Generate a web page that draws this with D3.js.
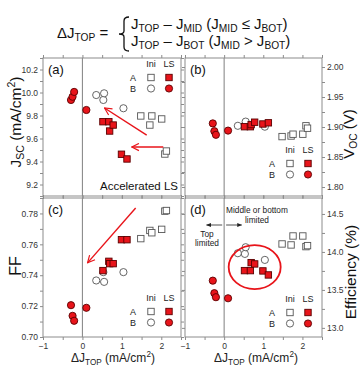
<!DOCTYPE html>
<html lang="en">
<head>
<meta charset="utf-8">
<title>Delta J top</title>
<script src="https://cdn.jsdelivr.net/npm/d3@7"></script>
<style>
  body { margin: 0; background: #fff; }
  svg { display: block; font-family: "Liberation Sans", Arial, sans-serif; }
</style>
</head>
<body>
<div id="chart"></div>
<script>
// ---- data ----
var aIniX  = [1.48, 1.71, 1.76, 2.01, 2.09, 2.13];
var aIniJsc = [9.796, 9.717, 9.796, 9.770, 9.465, 9.491];
var aIniVoc = [1.884, 1.885, 1.888, 1.888, 1.902, 1.898];
var aIniFF  = [0.7637, 0.7690, 0.7675, 0.7697, 0.7815, 0.7819];
var aIniEff = [14.105, 14.092, 14.21, 14.21, 14.07, 14.083];

var aLsX   = [0.52, 0.67, 0.69, 0.78, 0.99, 1.13];
var aLsJsc = [9.746, 9.746, 9.665, 9.717, 9.463, 9.422];
var aLsVoc = [1.9005, 1.9005, 1.904, 1.908, 1.905, 1.907];
var aLsFF  = [0.743, 0.749, 0.7475, 0.7475, 0.763, 0.763];
var aLsEff = [13.754, 13.754, 13.859, 13.842, 13.75, 13.697];

var bIniX   = [0.35, 0.53, 0.55, 1.04];
var bIniJsc = [9.978, 9.935, 9.993, 9.863];
var bIniVoc = [1.902, 1.903, 1.909, 1.9005];
var bIniFF  = [0.7366, 0.742, 0.7357, 0.742];
var bIniEff = [13.983, 13.974, 14.062, 13.895];

var bLsX   = [-0.29, -0.25, -0.21, 0.1];
var bLsJsc = [9.935, 9.963, 10.005, 9.848];
var bLsVoc = [1.906, 1.893, 1.887, 1.894];
var bLsFF  = [0.7206, 0.7137, 0.7105, 0.7189];
var bLsEff = [13.622, 13.457, 13.404, 13.39];

var xTicks = [-1, 0, 1, 2];
var jscTicks = [9.2, 9.4, 9.6, 9.8, 10.0, 10.2];
var vocTicks = [1.80, 1.85, 1.90, 1.95, 2.00];
var ffTicks  = [0.70, 0.72, 0.74, 0.76, 0.78];
var effTicks = [13.0, 13.5, 14.0, 14.5];

var W = 360, H = 369;
var red = "#e8141a", redEdge = "#5a0000", grey = "#8c8c8c";

var svg = d3.select("#chart").append("svg")
  .attr("width", W).attr("height", H);

// rich text helper: parts = [[text, "sub"|"sup"|""], ...]
function rich(sel, parts, size) {
  var subSize = size * 0.68;
  var shift = 0;
  parts.forEach(function(p) {
    var t = sel.append("tspan").text(p[0]);
    var want = p[1] == "sub" ? size * 0.22 : p[1] == "sup" ? -size * 0.4 : 0;
    t.attr("dy", want - shift);
    shift = want;
    if (p[1]) t.attr("font-size", subSize);
  });
  return sel;
}

// ---- header formula ----
var hdr = svg.append("g").attr("fill", "#111");
rich(hdr.append("text").attr("x", 57).attr("y", 38).attr("font-size", 15),
  [["\u0394J", ""], ["TOP", "sub"], [" =", ""]], 15);
rich(hdr.append("text").attr("x", 131).attr("y", 29).attr("font-size", 15),
  [["J", ""], ["TOP", "sub"], [" \u2013 J", ""], ["MID", "sub"], [" (J", ""], ["MID", "sub"],
   [" \u2264 J", ""], ["BOT", "sub"], [")", ""]], 15);
rich(hdr.append("text").attr("x", 131).attr("y", 46).attr("font-size", 15),
  [["J", ""], ["TOP", "sub"], [" \u2013 J", ""], ["BOT", "sub"], [" (J", ""], ["MID", "sub"],
   [" > J", ""], ["BOT", "sub"], [")", ""]], 15);
hdr.append("path")
  .attr("d", "M129,17 Q124,17 124,21 L124,31 Q124,34 119,34 Q124,34 124,37 L124,47 Q124,51 129,51")
  .attr("fill", "none").attr("stroke", "#111").attr("stroke-width", 1.3);

// ---- panels ----
var colL = [43, 181], colR = [185, 322];
var rowT = [58, 196], rowB = [198, 337];

var panels = [
  {id: "(a)", col: colL, row: rowT, dom: [9.1, 10.3], ticks: jscTicks, minor: 0.1, fmt: ".1f", side: "left",
   ys: [aIniJsc, aLsJsc, bIniJsc, bLsJsc], leg: [133, 67]},
  {id: "(b)", col: colR, row: rowT, dom: [1.785, 2.015], ticks: vocTicks, minor: 0.025, fmt: ".2f", side: "right",
   ys: [aIniVoc, aLsVoc, bIniVoc, bLsVoc], leg: [272, 153]},
  {id: "(c)", col: colL, row: rowB, dom: [0.70, 0.79], ticks: ffTicks, minor: 0.01, fmt: ".2f", side: "left",
   ys: [aIniFF, aLsFF, bIniFF, bLsFF], leg: [133, 301], xlab: true},
  {id: "(d)", col: colR, row: rowB, dom: [12.88, 14.71], ticks: effTicks, minor: 0.25, fmt: ".1f", side: "right",
   ys: [aIniEff, aLsEff, bIniEff, bLsEff], leg: [272, 302], xlab: true}
];

function squareAt(g, cx, cy, filled) {
  g.append("rect").attr("x", cx - 3.2).attr("y", cy - 3.2).attr("width", 6.4).attr("height", 6.4)
    .attr("fill", filled ? red : "#fff").attr("stroke", filled ? redEdge : "#555").attr("stroke-width", 0.9);
}
function circleAt(g, cx, cy, filled) {
  g.append("circle").attr("cx", cx).attr("cy", cy).attr("r", 3.6)
    .attr("fill", filled ? red : "#fff").attr("stroke", filled ? redEdge : "#555").attr("stroke-width", 0.9);
}

panels.forEach(function(p) {
  var x = d3.scaleLinear().domain([-1, 2.5]).range(p.col);
  var y = d3.scaleLinear().domain(p.dom).range([p.row[1], p.row[0]]);
  p.x = x; p.y = y;
  var g = svg.append("g");

  // frame
  g.append("rect").attr("x", p.col[0]).attr("y", p.row[0])
    .attr("width", p.col[1] - p.col[0]).attr("height", p.row[1] - p.row[0])
    .attr("fill", "none").attr("stroke", grey).attr("stroke-width", 1);

  // ticks on all sides
  var xt = d3.range(-1, 2.51, 0.5);
  var yt = d3.range(Math.ceil(p.dom[0] / p.minor - 1e-6) * p.minor, p.dom[1] + 1e-9, p.minor);
  var axB = d3.axisBottom(x).tickValues(xt).tickSize(3).tickFormat("");
  var axT = d3.axisTop(x).tickValues(xt).tickSize(3).tickFormat("");
  var axL = d3.axisLeft(y).tickValues(yt).tickSize(3).tickFormat("");
  var axR = d3.axisRight(y).tickValues(yt).tickSize(3).tickFormat("");
  [[axB, "translate(0," + p.row[1] + ")"], [axT, "translate(0," + p.row[0] + ")"],
   [axL, "translate(" + p.col[0] + ",0)"], [axR, "translate(" + p.col[1] + ",0)"]].forEach(function(a) {
    var ag = g.append("g").attr("transform", a[1]).call(a[0]);
    ag.select(".domain").remove();
    ag.selectAll("line").attr("stroke", grey);
  });

  // labeled y axis
  var lab = (p.side == "left" ? d3.axisLeft(y) : d3.axisRight(y))
    .tickValues(p.ticks).tickSize(0).tickPadding(5).tickFormat(d3.format(p.fmt));
  var lg = g.append("g").attr("transform", "translate(" + (p.side == "left" ? p.col[0] : p.col[1]) + ",0)").call(lab);
  lg.select(".domain").remove();
  lg.selectAll("text").attr("font-size", 8.5).attr("fill", "#333").attr("font-family", "Liberation Sans, Arial, sans-serif");

  if (p.xlab) {
    var xl = d3.axisBottom(x).tickValues(xTicks).tickSize(0).tickPadding(6).tickFormat(d3.format("d"));
    var xg = g.append("g").attr("transform", "translate(0," + p.row[1] + ")").call(xl);
    xg.select(".domain").remove();
    xg.selectAll("text").attr("font-size", 8.5).attr("fill", "#333").attr("font-family", "Liberation Sans, Arial, sans-serif");
  }

  // zero line
  g.append("line").attr("x1", x(0)).attr("x2", x(0)).attr("y1", p.row[0]).attr("y2", p.row[1])
    .attr("stroke", grey).attr("stroke-width", 1.1);

  // panel letter
  g.append("text").attr("x", p.col[0] + 5).attr("y", p.row[0] + 16).attr("font-size", 13)
    .attr("fill", "#111").text(p.id);

  // points: A Ini, A LS, B Ini, B LS
  var mg = g.append("g");
  aIniX.forEach(function(v, i) { squareAt(mg, x(v), y(p.ys[0][i]), false); });
  bIniX.forEach(function(v, i) { circleAt(mg, x(v), y(p.ys[2][i]), false); });
  aLsX.forEach(function(v, i) { squareAt(mg, x(v), y(p.ys[1][i]), true); });
  bLsX.forEach(function(v, i) { circleAt(mg, x(v), y(p.ys[3][i]), true); });

  // legend
  var lx = p.leg[0], ly = p.leg[1];
  var lgd = g.append("g").attr("font-size", 9).attr("fill", "#222");
  lgd.append("text").attr("x", lx + 18).attr("y", ly).attr("text-anchor", "middle").text("Ini");
  lgd.append("text").attr("x", lx + 36).attr("y", ly).attr("text-anchor", "middle").text("LS");
  lgd.append("text").attr("x", lx).attr("y", ly + 14).attr("text-anchor", "middle").text("A");
  lgd.append("text").attr("x", lx).attr("y", ly + 25).attr("text-anchor", "middle").text("B");
  squareAt(lgd, lx + 18, ly + 10.5, false);
  squareAt(lgd, lx + 36, ly + 10.5, true);
  circleAt(lgd, lx + 18, ly + 21.5, false);
  circleAt(lgd, lx + 36, ly + 21.5, true);
});

// ---- annotations ----
var defs = svg.append("defs");
defs.append("marker").attr("id", "ah").attr("viewBox", "0 0 10 10")
  .attr("refX", 9).attr("refY", 5).attr("markerWidth", 9).attr("markerHeight", 9)
  .attr("markerUnits", "userSpaceOnUse").attr("orient", "auto")
  .append("path").attr("d", "M1,1 L9,5 L1,9").attr("fill", "none").attr("stroke", red).attr("stroke-width", 1.3);
defs.append("marker").attr("id", "ak").attr("viewBox", "0 0 10 10")
  .attr("refX", 9).attr("refY", 5).attr("markerWidth", 5).attr("markerHeight", 5)
  .attr("markerUnits", "userSpaceOnUse").attr("orient", "auto")
  .append("path").attr("d", "M0,1 L10,5 L0,9 Z").attr("fill", "#222");

function redArrow(p, x0, y0, x1, y1) {
  svg.append("line").attr("x1", p.x(x0)).attr("y1", p.y(y0)).attr("x2", p.x(x1)).attr("y2", p.y(y1))
    .attr("stroke", red).attr("stroke-width", 1.4).attr("marker-end", "url(#ah)");
}

var pa = panels[0], pb = panels[1], pc = panels[2], pd = panels[3];
redArrow(pa, 1.63, 9.63, 0.56, 9.865);
redArrow(pa, 2.05, 9.526, 1.25, 9.526);
redArrow(pc, 1.35, 0.7835, 0.13, 0.748);

svg.append("text").attr("x", pa.col[1] - 3).attr("y", pa.row[1] - 6).attr("text-anchor", "end")
  .attr("font-size", 11.5).attr("fill", "#111").text("Accelerated LS");

// panel d texts
var dg = svg.append("g").attr("font-size", 8.3).attr("fill", "#222").attr("text-anchor", "middle");
dg.append("text").attr("x", 257).attr("y", 213).text("Middle or bottom");
dg.append("text").attr("x", 257).attr("y", 223).text("limited");
dg.append("text").attr("x", 207).attr("y", 237).text("Top");
dg.append("text").attr("x", 207).attr("y", 246).text("limited");
svg.append("line").attr("x1", pd.x(-0.05)).attr("x2", pd.x(-0.45)).attr("y1", 225).attr("y2", 225)
  .attr("stroke", "#222").attr("stroke-width", 0.8).attr("marker-end", "url(#ak)");
svg.append("line").attr("x1", pd.x(0.05)).attr("x2", pd.x(0.45)).attr("y1", 225).attr("y2", 225)
  .attr("stroke", "#222").attr("stroke-width", 0.8).attr("marker-end", "url(#ak)");

svg.append("ellipse").attr("cx", pd.x(0.78)).attr("cy", pd.y(13.8)).attr("rx", 26).attr("ry", 22)
  .attr("fill", "none").attr("stroke", red).attr("stroke-width", 1.8);

// ---- axis titles ----
function vtitle(x, y, parts, size) {
  var t = svg.append("text").attr("transform", "translate(" + x + "," + y + ") rotate(-90)")
    .attr("text-anchor", "middle").attr("font-size", size).attr("fill", "#111");
  rich(t, parts, size);
}
vtitle(21, 122, [["J", ""], ["SC", "sub"], [" (mA/cm", ""], ["2", "sup"], [")", ""]], 15.5);
vtitle(21, 266, [["FF", ""]], 16);
vtitle(354, 134, [["V", ""], ["OC", "sub"], [" (V)", ""]], 15);
vtitle(356, 272, [["Efficiency (%)", ""]], 15.5);

function xtitle(cx) {
  var t = svg.append("text").attr("x", cx).attr("y", 362).attr("text-anchor", "middle")
    .attr("font-size", 12).attr("fill", "#222");
  rich(t, [["\u0394J", ""], ["TOP", "sub"], [" (mA/cm", ""], ["2", "sup"], [")", ""]], 12);
}
xtitle(113);
xtitle(256);
</script>
</body>
</html>
